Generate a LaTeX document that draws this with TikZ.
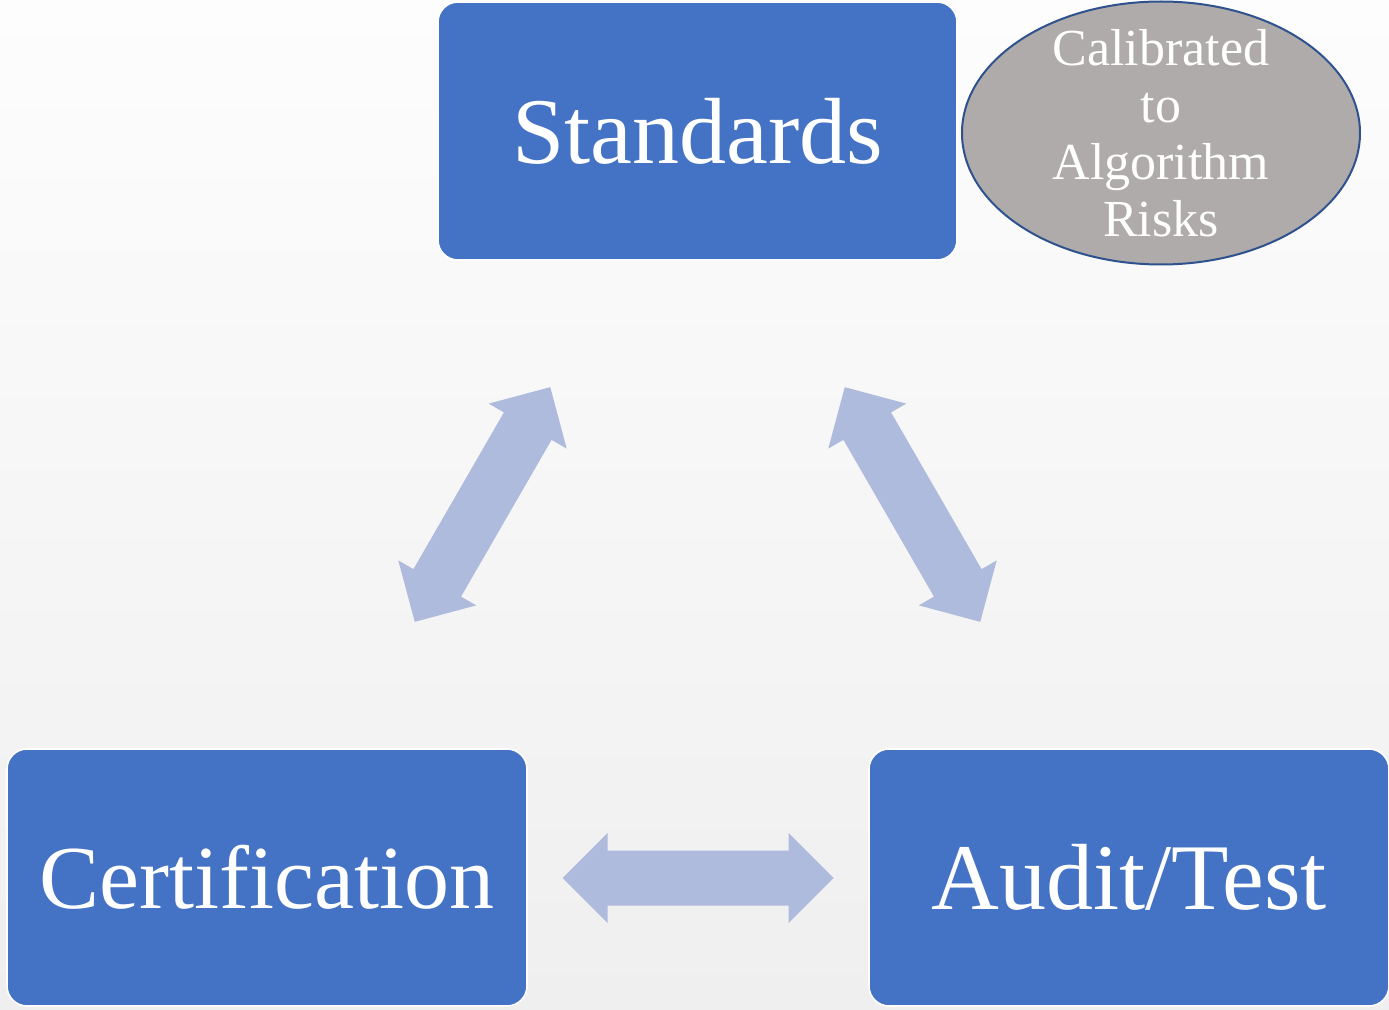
\documentclass[tikz,border=0pt]{standalone}
\usepackage{fontspec}
\setmainfont{Liberation Serif}
\usetikzlibrary{shapes.geometric}
\definecolor{boxblue}{HTML}{4472C4}
\definecolor{arrowblue}{HTML}{AFBBDD}
\definecolor{ellgray}{HTML}{AEABAA}
\definecolor{elledge}{HTML}{2F528F}
\definecolor{bgtop}{HTML}{FDFDFD}
\definecolor{bgbot}{HTML}{EFEFEF}
\tikzset{
  mainbox/.style={rectangle, rounded corners=10pt, fill=boxblue, draw=white, line width=0.8pt,
    text=white, inner sep=0pt, font=\fontsize{47}{56}\selectfont},
  riskell/.style={ellipse, fill=ellgray, draw=elledge, line width=1pt, inner sep=0pt},
  risktxt/.style={text=white, align=center, inner sep=0pt, font=\fontsize{26}{28.5}\selectfont},
  arrowfill/.style={fill=arrowblue, draw=none}
}
\newcommand\dblblockarrow[2]{%
  \fill[arrowfill, shift={(#1)}, rotate=#2]
    (-135.5,0) -- (-90.5,45) -- (-90.5,27.5) -- (90.5,27.5) -- (90.5,45) -- (135.5,0)
    -- (90.5,-45) -- (90.5,-27.5) -- (-90.5,-27.5) -- (-90.5,-45) -- cycle;}
\begin{document}
\begin{tikzpicture}[x=0.5pt, y=0.5pt]
  \useasboundingbox (0,0) rectangle (1389,1009);
  \fill[top color=bgtop, bottom color=bgbot] (0,0) rectangle (1389,1009);
  \node[mainbox, minimum width=259.5pt, minimum height=129pt] (std) at (697.5,878) {Standards};
  \node[mainbox, minimum width=260pt, minimum height=128.5pt, font=\fontsize{45}{54}\selectfont] (cert) at (267,131.5) {Certification};
  \node[mainbox, minimum width=260pt, minimum height=128.5pt] (audit) at (1129,131.5) {Audit/Test};
  \node[riskell, minimum width=199pt, minimum height=131.5pt] (risk) at (1161,876) {};
  \node[risktxt] (risktext) at (risk.center) {Calibrated\\to\\Algorithm\\Risks};
  \coordinate (aleft) at (482.5,504.5);
  \coordinate (aright) at (912.5,504.5);
  \coordinate (abottom) at (698,131);
  \dblblockarrow{aleft}{60}
  \dblblockarrow{aright}{120}
  \dblblockarrow{abottom}{0}
\end{tikzpicture}
\end{document}
